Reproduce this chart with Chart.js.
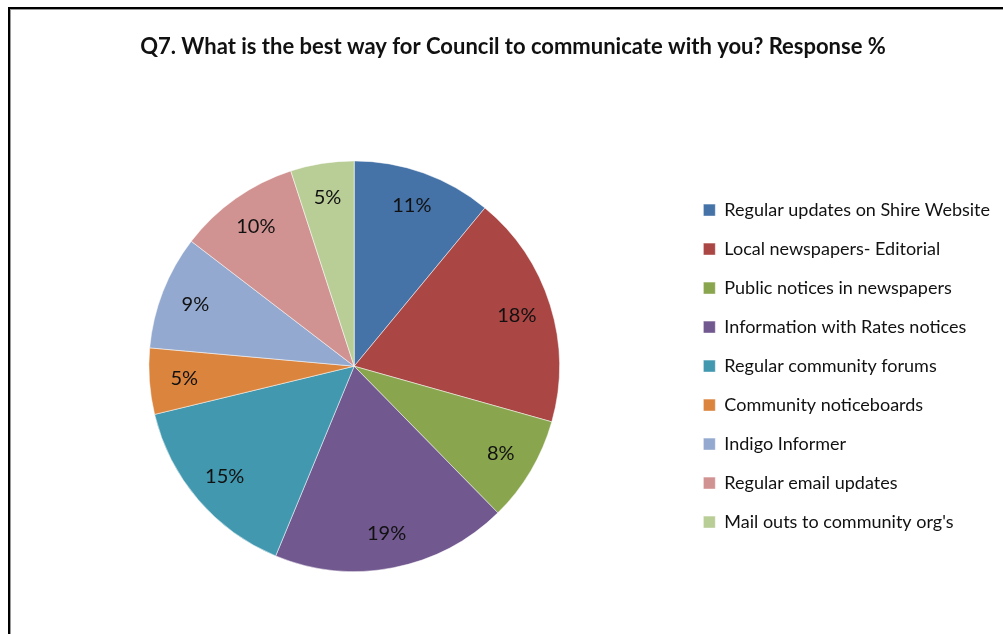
<!DOCTYPE html>
<html>
<head>
<meta charset="utf-8">
<script src="https://cdn.jsdelivr.net/npm/chart.js@4.4.1/dist/chart.umd.min.js"></script>
<style>
  html, body { margin: 0; padding: 0; background: #fff; overflow: hidden; }
  #frame {
    position: absolute; left: 8px; top: 7px; width: 1000px; height: 640px;
    border-left: 2px solid #000; border-top: 2px solid #000;
    box-shadow: inset 1px 1px 0 #9a9a9a;
  }
  #wrap { position: absolute; left: 10px; top: 9px; width: 993px; height: 625px; }
</style>
</head>
<body>
<div id="frame"></div>
<div id="wrap"><canvas id="c"></canvas></div>
<script>
const titleText = "Q7. What is the best way for Council to communicate with you? Response %";
const categories = [
  "Regular updates on Shire Website",
  "Local newspapers- Editorial",
  "Public notices in newspapers",
  "Information with Rates notices",
  "Regular community forums",
  "Community noticeboards",
  "Indigo Informer",
  "Regular email updates",
  "Mail outs to community org's"
];
const responsePct = [11, 18.4, 8.3, 18.6, 15, 5.2, 9, 9.6, 5];
const sliceColors = ["#4572A7", "#AA4643", "#89A54E", "#71588F", "#4198AF", "#DB843D", "#93A9CF", "#D19392", "#B9CD96"];

const labelPlugin = {
  id: 'sliceLabels',
  afterDatasetsDraw(chart) {
    const ctx = chart.ctx;
    const meta = chart.getDatasetMeta(0);
    const data = chart.data.datasets[0].data;
    const total = data.reduce((a, b) => a + b, 0);
    ctx.save();
    ctx.font = '20px Lato';
    ctx.fillStyle = '#111';
    ctx.textAlign = 'center';
    ctx.textBaseline = 'middle';
    meta.data.forEach((arc, i) => {
      const p = arc.getProps(['x', 'y', 'startAngle', 'endAngle', 'outerRadius'], true);
      const mid = (p.startAngle + p.endAngle) / 2;
      const r = p.outerRadius * 0.83;
      const txt = Math.round(data[i] / total * 100) + '%';
      ctx.fillText(txt, p.x + Math.cos(mid) * r, p.y + Math.sin(mid) * r);
    });
    ctx.restore();
  }
};

new Chart(document.getElementById('c'), {
  type: 'pie',
  data: {
    labels: categories,
    datasets: [{
      data: responsePct,
      backgroundColor: sliceColors,
      borderColor: 'rgba(255,255,255,0.5)',
      borderWidth: 1
    }]
  },
  options: {
    responsive: true,
    maintainAspectRatio: false,
    animation: false,
    layout: { padding: { left: 16, right: 3, top: 0, bottom: 62 } },
    plugins: {
      title: {
        display: true,
        text: titleText,
        color: '#111',
        font: { family: 'Lato', size: 22, weight: 'bold' },
        padding: { top: 25, bottom: 100 }
      },
      legend: {
        position: 'right',
        title: { display: true, text: ' ', font: { size: 1 }, padding: { top: 150, bottom: 0 } },
        labels: {
          color: '#111',
          font: { family: 'Lato', size: 18 },
          boxWidth: 12,
          boxHeight: 12,
          padding: 21
        }
      },
      tooltip: { enabled: false }
    }
  },
  plugins: [labelPlugin]
});
</script>
</body>
</html>
